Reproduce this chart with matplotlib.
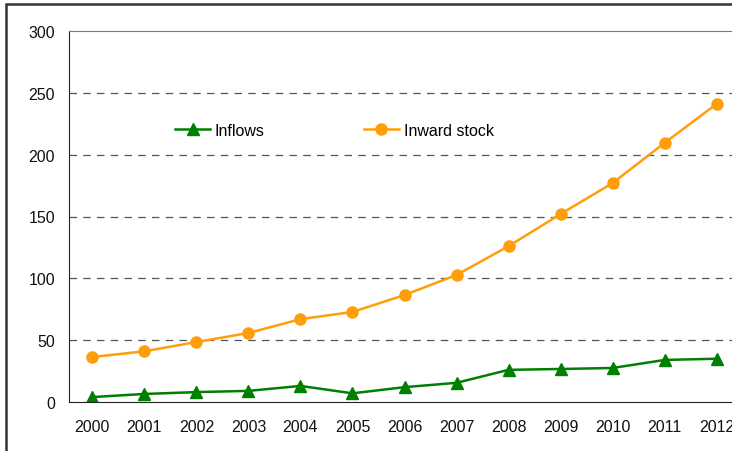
import numpy as np
import matplotlib.pyplot as plt
from matplotlib.patches import Rectangle

plt.rcParams['font.family'] = ['Liberation Sans', 'DejaVu Sans']

years = ['2000', '2001', '2002', '2003', '2004', '2005', '2006',
         '2007', '2008', '2009', '2010', '2011', '2012']
inflows = [4, 6.5, 8, 9, 13, 7, 12, 15.5, 26, 26.7, 27.5, 34, 35]
inward_stock = [36.4, 41, 48.5, 55.8, 67, 72.8, 86.5, 102.7, 126, 152, 177, 209.5, 241]

fig = plt.figure(figsize=(7.32, 4.52), dpi=100)
W, H = 732, 452
ax = fig.add_axes([69 / W, 1 - 403 / H, (740 - 69) / W, (403 - 32) / H])

x = np.arange(len(years))
ax.plot(x, inflows, color='#008000', lw=1.8, marker='^', ms=9, label='Inflows')
ax.plot(x, inward_stock, color='#FF9E0A', lw=1.8, marker='o', ms=8, label='Inward stock')

ax.set_xlim(-0.45, len(years) - 0.55)
ax.set_ylim(0, 300)
ax.set_yticks(range(0, 301, 50))
ax.set_xticks(x)
ax.set_xticklabels(years)
ax.tick_params(length=0, labelsize=11.5, colors='#111111')
ax.tick_params(axis='x', pad=12)
ax.tick_params(axis='y', pad=10)
for v in range(50, 300, 50):
    ax.axhline(v, color='#555555', lw=0.9, ls=(0, (6, 5)), zorder=0)

ax.spines['left'].set_color('#222222')
ax.spines['bottom'].set_color('#222222')
ax.spines['top'].set_color('#777777')
ax.spines['right'].set_visible(False)

ax.legend(loc='center left', bbox_to_anchor=((175 - 69) / 671, (403 - 131) / 371),
          ncol=2, frameon=False, fontsize=11.5, borderaxespad=0, borderpad=0,
          columnspacing=6.2, handlelength=2.2, handletextpad=0.3)

fig.patches.append(Rectangle((6 / W, -0.1), 1.2, 1 - 5 / H + 0.1, transform=fig.transFigure,
                             fill=False, edgecolor='#333333', lw=1.8))

fig.savefig('out.png', dpi=100)
